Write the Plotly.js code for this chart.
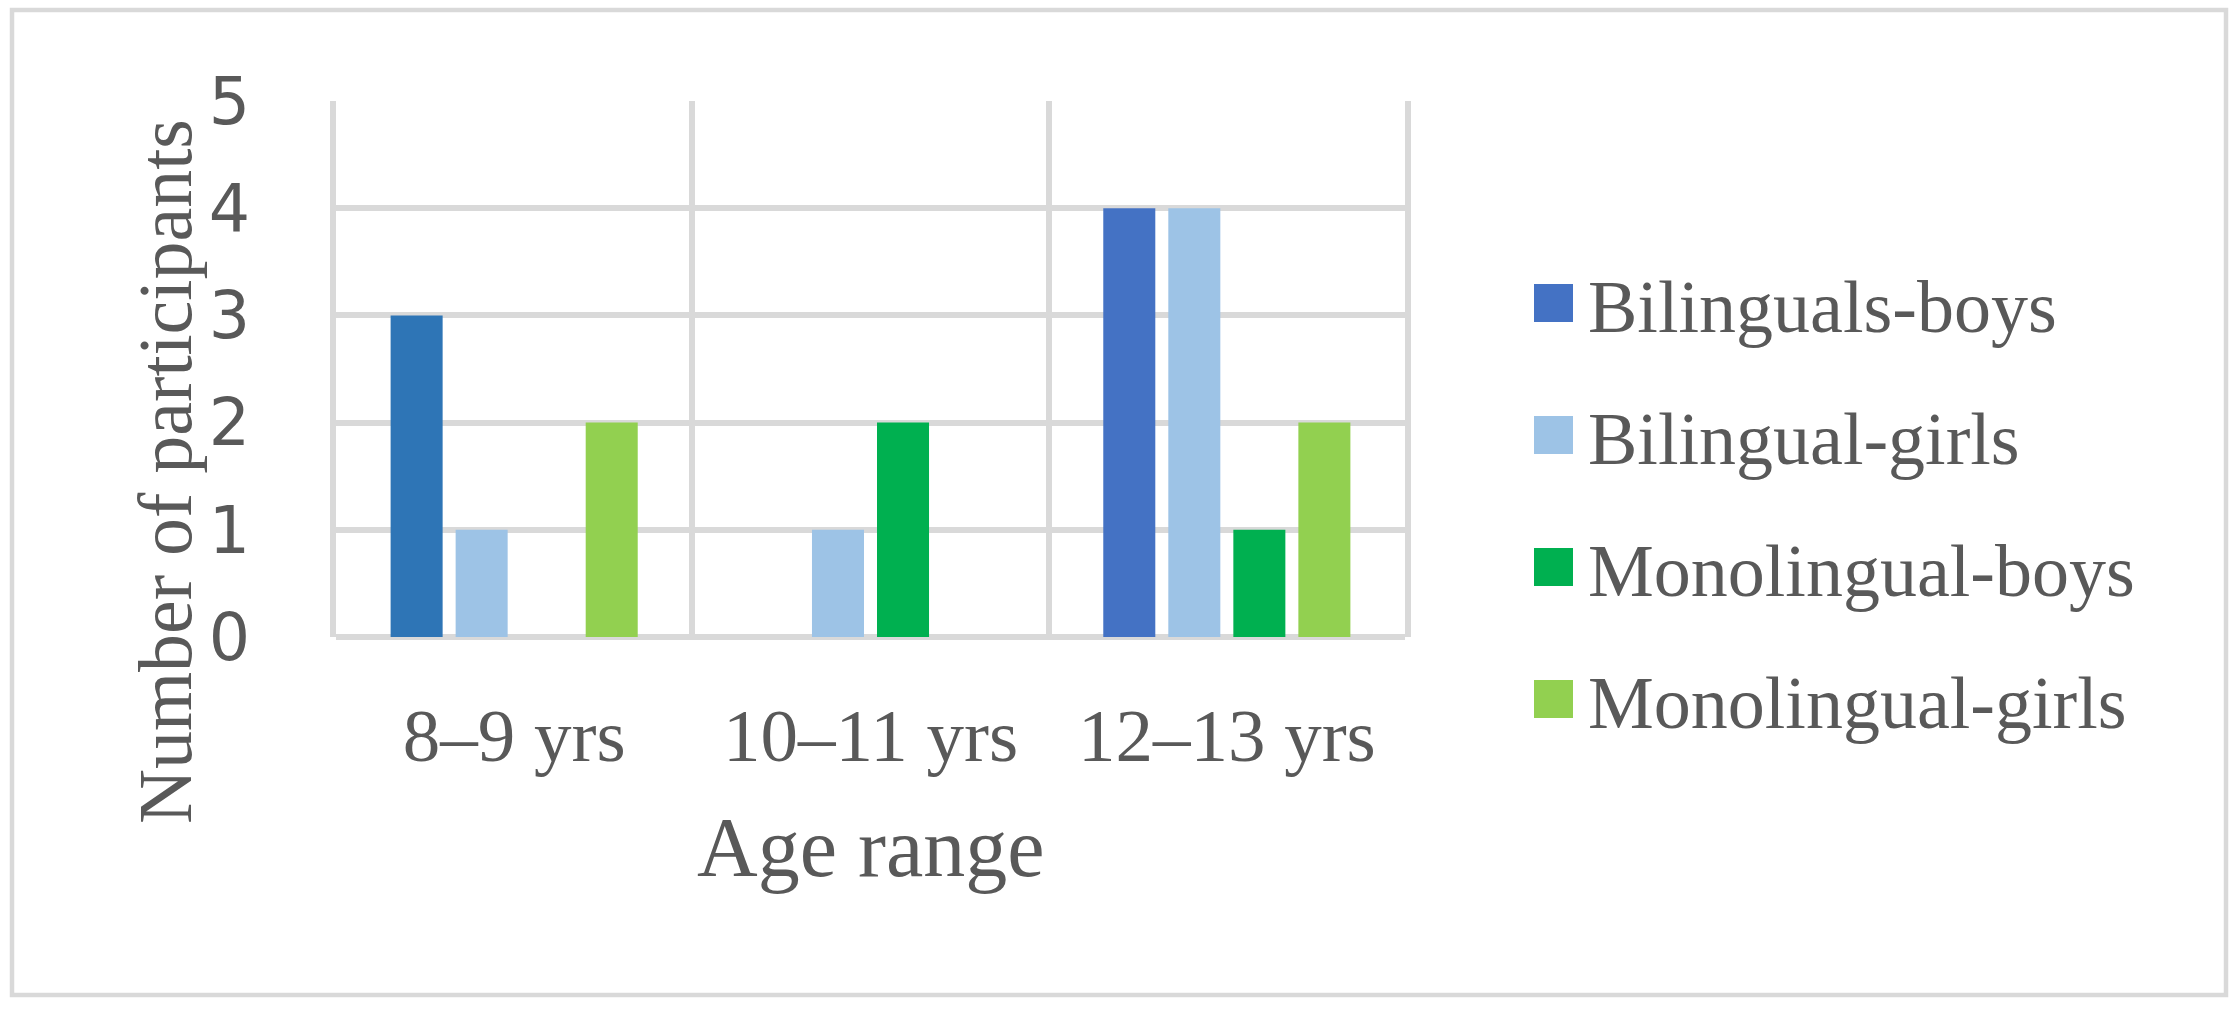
<!DOCTYPE html>
<html>
<head>
<meta charset="utf-8">
<script src="https://cdn.plot.ly/plotly-3.0.1.min.js"></script>
<style>
  html, body { margin: 0; padding: 0; background: #ffffff; }
  #chart { width: 2238px; height: 1009px; }
</style>
</head>
<body>
<div id="chart"></div>
<script>
// ---- data ----
const categories = ["8–9 yrs", "10–11 yrs", "12–13 yrs"];
const seriesNames = ["Bilinguals-boys", "Bilingual-girls", "Monolingual-boys", "Monolingual-girls"];
const bilingualBoys = [3, 0, 4];
const bilingualGirls = [1, 1, 4];
const monolingualBoys = [0, 2, 1];
const monolingualGirls = [2, 0, 2];
const yTicks = [0, 1, 2, 3, 4, 5];

// ---- styles ----
const seriesColors = ["#4472C4", "#9DC3E6", "#00B050", "#92D050"];
const bilingualBoysPointColors = ["#2E75B6", "#4472C4", "#4472C4"];
const textColor = "#595959";
const gridColor = "#D9D9D9";
const serif = "Liberation Serif, Times New Roman, serif";

const W = 2238, H = 1009;
const L = 336, R = 1405, T = 101, B = 637;
const px = v => (v - L) / (R - L);
const py = v => (B - v) / (B - T);

const seriesValues = [bilingualBoys, bilingualGirls, monolingualBoys, monolingualGirls];
const traces = seriesValues.map((vals, i) => ({
  type: "bar",
  name: seriesNames[i],
  x: categories,
  y: vals,
  marker: { color: i === 0 ? bilingualBoysPointColors : seriesColors[i], line: { width: 0 } },
  hoverinfo: "x+y+name"
}));

const shapes = [{
  type: "rect", xref: "paper", yref: "paper",
  x0: px(12), x1: px(2226), y0: py(995), y1: py(10),
  line: { color: gridColor, width: 4.5 }, fillcolor: "rgba(0,0,0,0)", layer: "below"
}];
const annotations = [];
const legendRowY = [303, 435, 567, 699];
seriesNames.forEach((name, i) => {
  const cy = legendRowY[i];
  shapes.push({
    type: "rect", xref: "paper", yref: "paper",
    x0: px(1534), x1: px(1573), y0: py(cy + 19), y1: py(cy - 19),
    line: { width: 0 }, fillcolor: seriesColors[i]
  });
  annotations.push({
    xref: "paper", yref: "paper", x: px(1586), y: py(cy + 4),
    xanchor: "left", yanchor: "middle", showarrow: false,
    text: name, font: { family: serif, size: 74, color: textColor }
  });
});
annotations.push({
  xref: "paper", yref: "paper", x: px(165), y: py(472),
  xanchor: "center", yanchor: "middle", showarrow: false, textangle: -90,
  text: "Number of participants", font: { family: serif, size: 76, color: textColor }
});
annotations.push({
  xref: "paper", yref: "paper", x: px(870), y: py(848),
  xanchor: "center", yanchor: "middle", showarrow: false,
  text: "Age range", font: { family: serif, size: 84, color: textColor }
});

const layout = {
  width: W, height: H,
  margin: { l: L, r: W - R, t: T, b: H - B, pad: 0 },
  paper_bgcolor: "#ffffff", plot_bgcolor: "#ffffff",
  barmode: "group", bargap: 0.27, bargroupgap: 0.2,
  showlegend: false,
  xaxis: {
    type: "category", tickson: "boundaries",
    showgrid: true, gridcolor: gridColor, gridwidth: 6,
    showline: false, zeroline: false,
    ticks: "", ticklabelstandoff: 48,
    tickfont: { family: serif, size: 75, color: textColor }
  },
  yaxis: {
    range: [0, 5], tickvals: yTicks, ticktext: yTicks.map(String),
    showgrid: true, gridcolor: gridColor, gridwidth: 6,
    zeroline: true, zerolinecolor: gridColor, zerolinewidth: 6,
    showline: true, mirror: true, linecolor: gridColor, linewidth: 6,
    ticks: "", ticklabelstandoff: 67,
    tickfont: { family: "DejaVu Sans, sans-serif", size: 65, color: textColor }
  },
  shapes: shapes,
  annotations: annotations
};

Plotly.newPlot("chart", traces, layout, { displayModeBar: false, staticPlot: true });
</script>
</body>
</html>
